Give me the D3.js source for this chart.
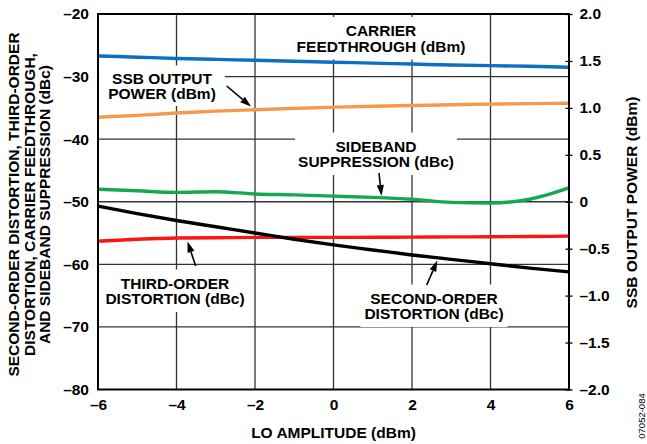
<!DOCTYPE html>
<html>
<head>
<meta charset="utf-8">
<script src="https://cdn.jsdelivr.net/npm/d3@7"></script>
<style>
  html, body { margin: 0; padding: 0; background: #fff; }
  svg { display: block; }
  text { font-family: "Liberation Sans", Arial, Helvetica, sans-serif; font-weight: bold; fill: #000; }
</style>
</head>
<body>
<svg id="chart" width="647" height="444"></svg>
<script>
// ---------------- DATA ----------------
const loAmplitude = [-6, -5, -4, -3, -2, -1, 0, 1, 2, 3, 4, 5, 6];
const carrierFeedthrough = [-26.7, -26.9, -27.1, -27.25, -27.4, -27.55, -27.7, -27.85, -28.0, -28.15, -28.25, -28.35, -28.5];
const ssbOutputPower = [0.90, 0.92, 0.945, 0.965, 0.98, 0.995, 1.007, 1.017, 1.025, 1.033, 1.04, 1.045, 1.05];
const sidebandSuppression = [-48.0, -48.25, -48.5, -48.4, -48.75, -48.9, -49.1, -49.3, -49.6, -50.1, -50.2, -49.6, -47.8];
const secondOrder = [-50.7, -51.9, -53.0, -54.0, -55.0, -56.0, -56.9, -57.7, -58.5, -59.2, -59.9, -60.6, -61.2];
const thirdOrder = [-56.3, -56.0, -55.8, -55.75, -55.7, -55.7, -55.7, -55.68, -55.65, -55.62, -55.6, -55.55, -55.5];

const xTicks = [-6, -4, -2, 0, 2, 4, 6];
const yLeftTicks = [-20, -30, -40, -50, -60, -70, -80];
const yRightTicks = [2.0, 1.5, 1.0, 0.5, 0, -0.5, -1.0, -1.5, -2.0];

const xTitle = "LO AMPLITUDE (dBm)";
const yLeftTitle = ["SECOND-ORDER DISTORTION, THIRD-ORDER", "DISTORTION, CARRIER FEEDTHROUGH,", "AND SIDEBAND SUPPRESSION (dBc)"];
const yRightTitle = "SSB OUTPUT POWER (dBm)";
const figId = "07052-084";

// ---------------- LAYOUT ----------------
const svg = d3.select("#chart");
const L = 98, R = 569, T = 14, B = 389.5;
const FS = 15.5;

const x = d3.scaleLinear().domain([-6, 6]).range([L, R]);
const yL = d3.scaleLinear().domain([-80, -20]).range([B, T]);
const yR = d3.scaleLinear().domain([-2, 2]).range([B, T]);

const minus = v => (v < 0 ? "\u2013" + Math.abs(v) : String(v));
const fmtR = v => (v === 0 ? "0" : (v < 0 ? "\u2013" + Math.abs(v).toFixed(1) : v.toFixed(1)));

// grid
const grid = svg.append("g");
grid.selectAll("line.v").data(xTicks.slice(1, -1)).join("line")
  .attr("x1", d => x(d)).attr("x2", d => x(d)).attr("y1", T).attr("y2", B)
  .attr("stroke", "#333").attr("stroke-width", 1.3);
grid.selectAll("line.h").data(yLeftTicks.slice(1, -1)).join("line")
  .attr("x1", L).attr("x2", R).attr("y1", d => yL(d)).attr("y2", d => yL(d))
  .attr("stroke", "#333").attr("stroke-width", 1.3);

// label backgrounds layer
const bgLayer = svg.append("g");
const lineLayer = svg.append("g");
const textLayer = svg.append("g");

// series lines
const mk = (ys, yScale) => d3.line().x((d, i) => x(loAmplitude[i])).y(d => yScale(d)).curve(d3.curveMonotoneX)(ys);
const series = [
  { v: thirdOrder, s: yL, c: "#ff1414" },
  { v: secondOrder, s: yL, c: "#000000" },
  { v: sidebandSuppression, s: yL, c: "#16a851" },
  { v: ssbOutputPower, s: yR, c: "#f7994c" },
  { v: carrierFeedthrough, s: yL, c: "#0b6fc3" }
];
series.forEach(sr => {
  lineLayer.append("path").attr("d", mk(sr.v, sr.s))
    .attr("fill", "none").attr("stroke", sr.c).attr("stroke-width", 3.4)
    .attr("stroke-linejoin", "round");
});

// annotations
const labels = [
  { lines: ["CARRIER", "FEEDTHROUGH (dBm)"], cx: 381, by: 36, px: 4, py: 5 },
  { lines: ["SSB OUTPUT", "POWER (dBm)"], cx: 162, by: 83.5, px: 9, py: 4 },
  { lines: ["SIDEBAND", "SUPPRESSION (dBc)"], cx: 376, by: 151.5, px: 3, py: 5 },
  { lines: ["THIRD-ORDER", "DISTORTION (dBc)"], cx: 175, by: 288.5, px: 4, py: 5 },
  { lines: ["SECOND-ORDER", "DISTORTION (dBc)"], cx: 434, by: 303.5, px: 4, py: 5 }
];
labels.forEach(lb => {
  const t = textLayer.append("text").attr("text-anchor", "middle").style("font-size", FS + "px");
  lb.lines.forEach((s, i) => t.append("tspan").attr("x", lb.cx).attr("y", lb.by + i * 15.5).text(s));
  const bb = t.node().getBBox();
  bgLayer.append("rect").attr("x", bb.x - lb.px).attr("y", bb.y - lb.py)
    .attr("width", bb.width + 2 * lb.px).attr("height", bb.height + 2 * lb.py).attr("fill", "#fff");
});

// arrows
const arrows = [
  [226.7, 86, 251, 106.5],
  [379, 173, 381.5, 196],
  [195.7, 266, 187.5, 241.5],
  [426.7, 285, 437.3, 260.5]
];
arrows.forEach(([x1, y1, x2, y2]) => {
  const ang = Math.atan2(y2 - y1, x2 - x1);
  const hl = 11, hw = 3.6;
  const bx = x2 - hl * Math.cos(ang), by = y2 - hl * Math.sin(ang);
  textLayer.append("line").attr("x1", x1).attr("y1", y1).attr("x2", bx).attr("y2", by)
    .attr("stroke", "#000").attr("stroke-width", 1.6);
  const p = [[x2, y2],
    [bx + hw * Math.sin(ang), by - hw * Math.cos(ang)],
    [bx - hw * Math.sin(ang), by + hw * Math.cos(ang)]];
  textLayer.append("polygon").attr("points", p.map(q => q.join(",")).join(" ")).attr("fill", "#000");
});

// frame
svg.append("rect").attr("x", L).attr("y", T).attr("width", R - L).attr("height", B - T)
  .attr("fill", "none").attr("stroke", "#000").attr("stroke-width", 2);

// left axis labels
const axL = svg.append("g").attr("transform", `translate(${L},0)`)
  .call(d3.axisLeft(yL).tickValues(yLeftTicks).tickFormat(minus).tickSize(0).tickPadding(9));
axL.select(".domain").remove();
axL.selectAll("text").style("font-size", FS + "px").style("font-family", null);

// bottom axis labels
const axB = svg.append("g").attr("transform", `translate(0,${B})`)
  .call(d3.axisBottom(x).tickValues(xTicks).tickFormat(minus).tickSize(0).tickPadding(9));
axB.select(".domain").remove();
axB.selectAll("text").style("font-size", FS + "px").style("font-family", null);

// right axis
const axR = svg.append("g").attr("transform", `translate(${R},0)`)
  .call(d3.axisRight(yR).tickValues(yRightTicks).tickFormat(fmtR).tickSizeInner(3.5).tickSizeOuter(0).tickPadding(7));
axR.select(".domain").remove();
axR.selectAll(".tick line").attr("x1", -3.5).attr("stroke", "#000").attr("stroke-width", 1.3);
axR.selectAll("text").style("font-size", FS + "px").style("font-family", null);

// titles
svg.append("text").attr("x", (L + R) / 2).attr("y", 437.5).attr("text-anchor", "middle")
  .style("font-size", FS + "px").text(xTitle);

const yt = svg.append("text").attr("text-anchor", "middle").style("font-size", FS + "px")
  .attr("transform", "translate(0,204.5) rotate(-90)");
yLeftTitle.forEach((s, i) => yt.append("tspan").attr("x", 0).attr("y", 19 + i * 15.5).text(s));

svg.append("text").attr("text-anchor", "middle").style("font-size", FS + "px")
  .attr("transform", "translate(637,202.5) rotate(-90)").text(yRightTitle);

svg.append("text").attr("text-anchor", "middle").style("font-size", "9.5px").style("font-weight", "normal")
  .attr("transform", "translate(644.5,416) rotate(-90)").text(figId);
</script>
</body>
</html>
